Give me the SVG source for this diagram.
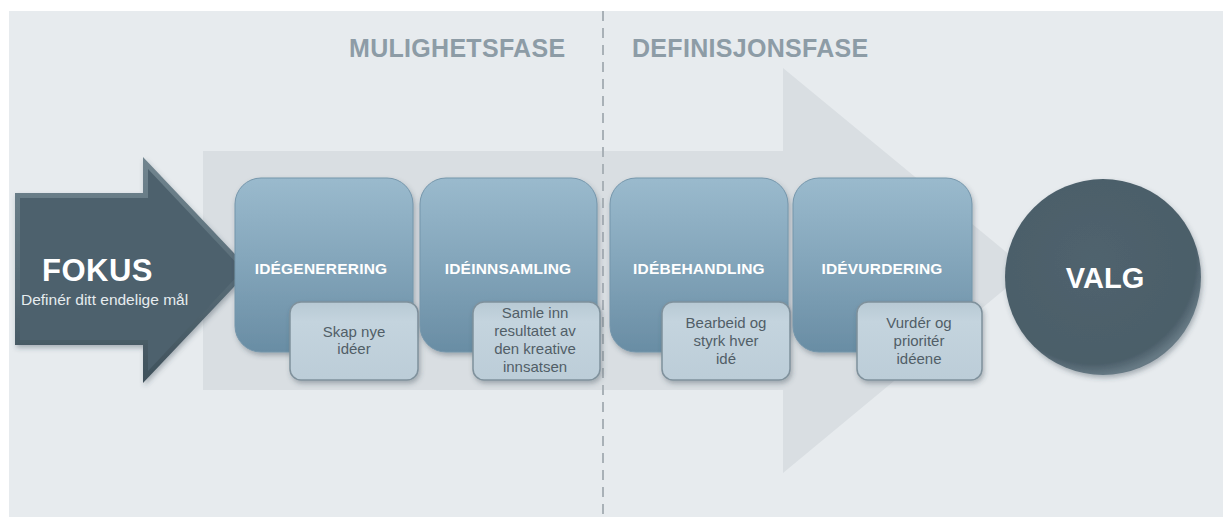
<svg xmlns="http://www.w3.org/2000/svg" width="1223" height="519" viewBox="0 0 1223 519">
  <style>
    .phase { font-family: "Liberation Sans", Arial, sans-serif; font-weight: bold; font-size: 25px; fill: #8d9ca6; letter-spacing: 0.3px; }
    .title { font-family: "Liberation Sans", Arial, sans-serif; font-weight: bold; font-size: 15.5px; fill: #ffffff; text-anchor: middle; letter-spacing: 0.2px; }
    .sub { font-family: "Liberation Sans", Arial, sans-serif; font-size: 15px; fill: #515e67; text-anchor: middle; }
    .big { font-family: "Liberation Sans", Arial, sans-serif; font-weight: bold; fill: #ffffff; }
    .step { fill: url(#stepFill); stroke: #7596ab; stroke-width: 1; filter: url(#shadow); }
    .note { fill: url(#noteFill); stroke: #7f919c; stroke-width: 1.5; filter: url(#shadow); }
  </style>
  <defs>
    <linearGradient id="stepFill" x1="0" y1="0" x2="0" y2="1">
      <stop offset="0" stop-color="#9abacd"/>
      <stop offset="0.45" stop-color="#85a7bc"/>
      <stop offset="1" stop-color="#698da4"/>
    </linearGradient>
    <linearGradient id="noteFill" x1="0" y1="0" x2="0" y2="1">
      <stop offset="0" stop-color="#b7c9d4"/>
      <stop offset="0.25" stop-color="#c4d4de"/>
      <stop offset="1" stop-color="#bccdd8"/>
    </linearGradient>
    <linearGradient id="edgeFill" x1="0" y1="0" x2="0" y2="1">
      <stop offset="0" stop-color="#71858f"/>
      <stop offset="0.5" stop-color="#5a6e79"/>
      <stop offset="1" stop-color="#3e505a"/>
    </linearGradient>
    <radialGradient id="orbFill" cx="0.45" cy="0.42" r="0.58">
      <stop offset="0" stop-color="#50636e"/>
      <stop offset="0.9" stop-color="#4b5e69"/>
      <stop offset="1" stop-color="#667984"/>
    </radialGradient>
    <filter id="shadow" x="-20%" y="-20%" width="140%" height="150%">
      <feDropShadow dx="1.5" dy="3" stdDeviation="2.5" flood-color="#34444e" flood-opacity="0.35"/>
    </filter>
  </defs>

  <!-- canvas -->
  <rect x="0" y="0" width="1223" height="519" fill="#ffffff"/>
  <rect id="panel" x="9" y="11" width="1214" height="506" fill="#e7ebee"/>

  <!-- broad process arrow behind the steps -->
  <g id="connectors">
    <polygon id="flow" points="203,151 783,151 783,68 1028,270 783,473 783,390 203,390" fill="#d9dee2"/>
    <line id="phase-divider" x1="603" y1="11" x2="603" y2="519" stroke="#a9b1b7" stroke-width="2" stroke-dasharray="10 7"/>
  </g>

  <!-- phase headings -->
  <g id="phases">
    <text class="phase" x="349" y="57">MULIGHETSFASE</text>
    <text class="phase" x="632" y="57">DEFINISJONSFASE</text>
  </g>

  <!-- start: focus arrow with bevelled edge -->
  <g id="fokus">
    <polygon points="15,193 143,193 143,157 250,270 143,383 143,345 15,345" fill="url(#edgeFill)" filter="url(#shadow)"/>
    <polygon points="20,198 148,198 148,169 243,270 148,371 148,340 20,340" fill="#4d616d"/>
    <text class="big" x="42" y="281" font-size="31" letter-spacing="0.5">FOKUS</text>
    <text x="21" y="305" font-family="Liberation Sans, Arial, sans-serif" font-size="15.5" fill="#e6ecef">Definér ditt endelige mål</text>
  </g>

  <!-- step 1 -->
  <g id="idegenerering">
    <rect class="step" x="235" y="178" width="178" height="174" rx="26"/>
    <text class="title" x="321" y="274">IDÉGENERERING</text>
    <rect class="note" x="290" y="302" width="128" height="78" rx="11"/>
    <text class="sub" x="354" y="337">Skap nye</text>
    <text class="sub" x="354" y="354">idéer</text>
  </g>

  <!-- step 2 -->
  <g id="ideinnsamling">
    <rect class="step" x="420" y="178" width="177" height="174" rx="26"/>
    <text class="title" x="508" y="274">IDÉINNSAMLING</text>
    <rect class="note" x="473" y="302" width="127" height="78" rx="11"/>
    <text class="sub" x="535" y="318">Samle inn</text>
    <text class="sub" x="535" y="336">resultatet av</text>
    <text class="sub" x="535" y="354">den kreative</text>
    <text class="sub" x="535" y="372">innsatsen</text>
  </g>

  <!-- step 3 -->
  <g id="idebehandling">
    <rect class="step" x="610" y="178" width="178" height="174" rx="26"/>
    <text class="title" x="699" y="274">IDÉBEHANDLING</text>
    <rect class="note" x="662" y="302" width="128" height="78" rx="11"/>
    <text class="sub" x="726" y="328">Bearbeid og</text>
    <text class="sub" x="726" y="346">styrk hver</text>
    <text class="sub" x="726" y="364">idé</text>
  </g>

  <!-- step 4 -->
  <g id="idevurdering">
    <rect class="step" x="793" y="178" width="179" height="174" rx="26"/>
    <text class="title" x="882" y="274">IDÉVURDERING</text>
    <rect class="note" x="857" y="302" width="125" height="78" rx="11"/>
    <text class="sub" x="919" y="328">Vurdér og</text>
    <text class="sub" x="919" y="346">prioritér</text>
    <text class="sub" x="919" y="364">idéene</text>
  </g>

  <!-- end: choice -->
  <g id="valg">
    <circle cx="1103" cy="277" r="98" fill="url(#orbFill)" filter="url(#shadow)"/>
    <text class="big" x="1105" y="288" font-size="29" text-anchor="middle">VALG</text>
  </g>
</svg>
